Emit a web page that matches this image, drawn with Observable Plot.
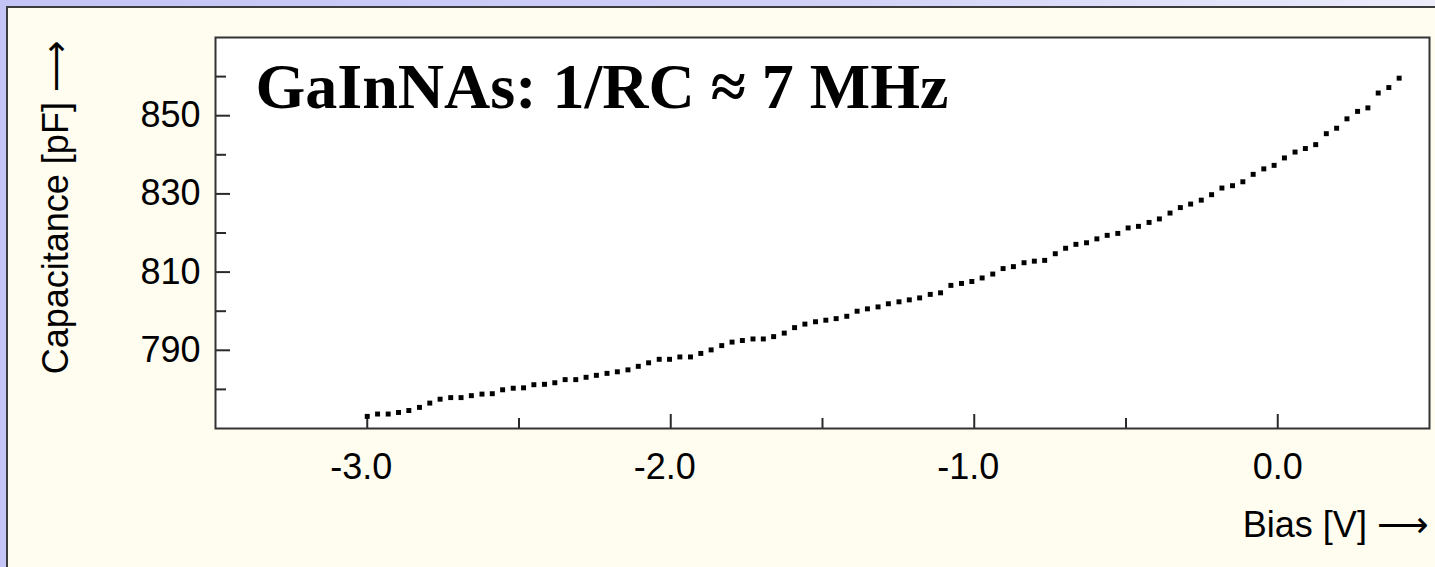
<!DOCTYPE html>
<html>
<head>
<meta charset="utf-8">
<script src="https://cdn.jsdelivr.net/npm/d3@7"></script>
<script src="https://cdn.jsdelivr.net/npm/@observablehq/plot@0.6"></script>
<style>
  html, body { margin: 0; padding: 0; width: 1435px; height: 567px; overflow: hidden; }
  body { background: linear-gradient(90deg, #c4c4f6 0%, #d0d0f8 55%, #ececfb 100%); position: relative; }
  #panel { position: absolute; left: 6px; top: 6px; width: 1445px; height: 575px; background: #fffcf0; border: 2px solid #3c3c3c; box-sizing: border-box; }
  #chart { position: absolute; left: 7px; top: 7px; }
</style>
</head>
<body>
<div id="panel"></div>
<div id="chart"></div>
<script>
// ---- data ----
const bias = [
  -3.000, -2.966, -2.931, -2.897, -2.863, -2.828, -2.794, -2.760, -2.725, -2.691,
  -2.657, -2.622, -2.588, -2.554, -2.519, -2.485, -2.451, -2.416, -2.382, -2.348,
  -2.313, -2.279, -2.245, -2.210, -2.176, -2.141, -2.107, -2.073, -2.038, -2.004,
  -1.970, -1.935, -1.901, -1.867, -1.832, -1.798, -1.764, -1.729, -1.695, -1.661,
  -1.626, -1.592, -1.558, -1.523, -1.489, -1.455, -1.420, -1.386, -1.352, -1.317,
  -1.283, -1.248, -1.214, -1.180, -1.145, -1.111, -1.077, -1.042, -1.008, -0.974,
  -0.939, -0.905, -0.871, -0.836, -0.802, -0.768, -0.733, -0.699, -0.665, -0.630,
  -0.596, -0.562, -0.527, -0.493, -0.459, -0.424, -0.390, -0.355, -0.321, -0.287,
  -0.252, -0.218, -0.184, -0.149, -0.115, -0.081, -0.046, -0.012, 0.022, 0.057,
  0.091, 0.125, 0.160, 0.194, 0.228, 0.263, 0.297, 0.331, 0.366, 0.400
];
const capacitance = [
  773.1, 773.7, 773.7, 774.1, 774.6, 775.4, 776.5, 777.5, 777.9, 777.9,
  778.4, 778.8, 778.9, 779.9, 780.3, 780.4, 781.2, 781.3, 781.7, 782.5,
  782.5, 783.1, 783.6, 784.1, 784.5, 785.0, 785.9, 786.8, 787.7, 787.7,
  788.3, 788.3, 789.2, 790.1, 791.2, 792.1, 792.5, 792.9, 792.9, 793.5,
  794.4, 795.8, 796.7, 797.3, 797.7, 798.1, 798.7, 800.0, 800.6, 801.1,
  801.9, 802.4, 802.9, 803.4, 804.3, 804.7, 806.6, 807.1, 807.6, 808.5,
  809.5, 810.9, 811.4, 812.4, 812.8, 813.0, 814.7, 816.1, 817.1, 817.5,
  818.5, 819.4, 819.9, 821.3, 821.7, 822.7, 823.6, 825.1, 826.5, 827.4,
  828.4, 829.8, 831.5, 832.1, 833.1, 835.0, 836.4, 837.3, 839.2, 840.7,
  841.6, 842.6, 845.4, 846.8, 849.2, 851.1, 852.0, 855.8, 857.2, 859.6
];
const xDomain = [-3.5, 0.5];
const yDomain = [770, 870];
const xMajorTicks = [-3, -2, -1, 0];
const xMinorTicks = [-2.5, -1.5, -0.5];
const yMajorTicks = [790, 810, 830, 850];
const yMinorTicks = [780, 800, 820, 840, 860];
const titleText = "GaInNAs: 1/RC \u2248 7 MHz";
const xLabel = "Bias [V] \u27F6";
const yLabel = "Capacitance [pF] \u27F6";

// ---- layout ----
const W = 1428, H = 560;
const mL = 208, mT = 30, mR = 6, mB = 139;
const frameW = W - mL - mR, frameH = H - mT - mB;
const sans = "'Liberation Sans', Arial, 'DejaVu Sans', sans-serif";
const ink = "#2a2a2a";

const points = bias.map((b, i) => ({bias: b, cap: capacitance[i]}));
const fmt = d => d.toFixed(1);

const chart = Plot.plot({
  width: W, height: H,
  marginLeft: mL, marginTop: mT, marginRight: mR, marginBottom: mB,
  style: {background: "transparent", fontFamily: sans, color: "#000", overflow: "visible"},
  x: {domain: xDomain, axis: null},
  y: {domain: yDomain, axis: null},
  marks: [
    Plot.frame({fill: "white", stroke: null}),
    // inward ticks
    Plot.tickX(xMajorTicks, {x: d => d, insetTop: frameH - 14, stroke: ink, strokeWidth: 2}),
    Plot.tickX(xMinorTicks, {x: d => d, insetTop: frameH - 10, stroke: ink, strokeWidth: 2}),
    Plot.tickY(yMajorTicks, {y: d => d, insetRight: frameW - 15, stroke: ink, strokeWidth: 2}),
    Plot.tickY(yMinorTicks, {y: d => d, insetRight: frameW - 11, stroke: ink, strokeWidth: 2}),
    Plot.frame({stroke: "#333", strokeWidth: 2}),
    // tick labels
    Plot.axisX(xMajorTicks.filter(d => d < 0), {tickSize: 0, tickPadding: 25, tickFormat: fmt, fontSize: 36, dx: -6, label: null}),
    Plot.axisX(xMajorTicks.filter(d => d >= 0), {tickSize: 0, tickPadding: 25, tickFormat: fmt, fontSize: 36, label: null}),
    Plot.axisY(yMajorTicks, {tickSize: 0, tickPadding: 15, tickFormat: d => String(d), fontSize: 36, label: null}),
    // data
    Plot.dot(points, {x: "bias", y: "cap", symbol: "square", r: 2.8, fill: "#000", stroke: null}),
    // title inside plot
    Plot.text([titleText], {text: d => d, frameAnchor: "top-left", textAnchor: "start", lineAnchor: "top",
      dx: 40, dy: 25, fontSize: 64, fontWeight: "bold", fontFamily: "'Liberation Serif', 'Times New Roman', serif", fill: "#000"}),
    // axis labels
    Plot.text([xLabel], {text: d => d, frameAnchor: "bottom-right", textAnchor: "end", lineAnchor: "top",
      dx: -1, dy: 83, fontSize: 36, fill: "#000"}),
    Plot.text([yLabel], {text: d => d, frameAnchor: "top-left", textAnchor: "end", lineAnchor: "middle",
      rotate: -90, dx: -159, dy: 3, fontSize: 36, fill: "#000"})
  ]
});
document.getElementById("chart").appendChild(chart);
</script>
</body>
</html>
